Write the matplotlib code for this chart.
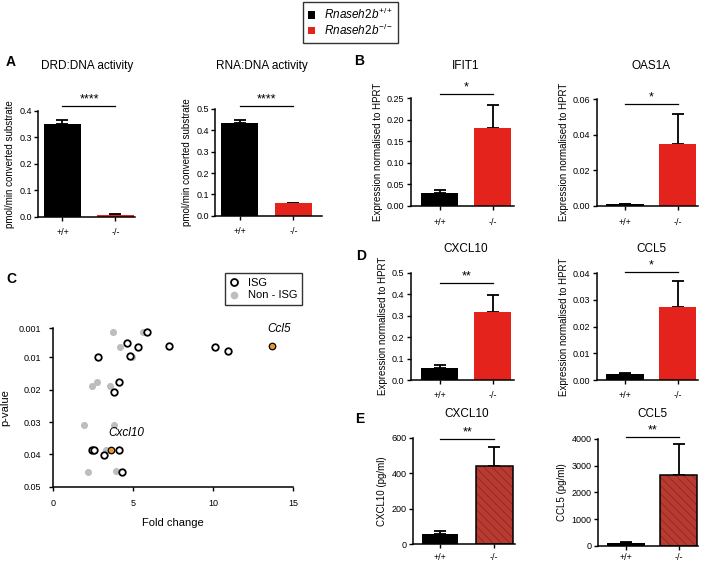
import matplotlib
matplotlib.use("Agg")
import matplotlib.pyplot as plt
from matplotlib.lines import Line2D
from matplotlib.patches import Patch
import numpy as np

plt.rcParams['font.family'] = ['Liberation Sans', 'DejaVu Sans']
plt.rcParams['mathtext.fontset'] = 'custom'
plt.rcParams['mathtext.rm'] = 'Liberation Sans'
plt.rcParams['mathtext.it'] = 'Liberation Sans:italic'
plt.rcParams['hatch.linewidth'] = 0.6

W, H = 709, 565

# ---- data ----
genotypes = ['+/+', '-/-']

drd_mean = [0.350, 0.008]
drd_err = [0.016, 0.001]
rna_mean = [0.433, 0.060]
rna_err = [0.015, 0.001]

ifit1_mean = [0.030, 0.182]
ifit1_err = [0.006, 0.053]
oas1a_mean = [0.0007, 0.0345]
oas1a_err = [0.0003, 0.0172]

cxcl10_mrna_mean = [0.057, 0.315]
cxcl10_mrna_err = [0.013, 0.083]
ccl5_mrna_mean = [0.0021, 0.0272]
ccl5_mrna_err = [0.0004, 0.0099]

cxcl10_prot_mean = [58, 441]
cxcl10_prot_err = [16, 105]
ccl5_prot_mean = [100, 2650]
ccl5_prot_err = [30, 1150]

# height of the significance bars and their labels
sig_heights = [0.419, 0.514, 0.259, 0.0572, 0.45, 0.0404, 591, 4086]
sig_labels = ['****', '****', '*', '*', '**', '*', '**', '**']

# panel C: fold change vs p-value
isg_fc = [5.88, 4.63, 5.31, 7.25, 10.1, 10.9, 2.81, 4.79, 4.13, 3.79, 2.40, 2.56, 4.13, 3.17, 4.29]
isg_p = [0.0021, 0.0057, 0.0069, 0.0066, 0.0069, 0.0080, 0.0100, 0.0095, 0.0175, 0.0206,
         0.0387, 0.0387, 0.0387, 0.0402, 0.0456]
non_isg_fc = [3.75, 5.63, 4.17, 4.90, 2.40, 2.75, 3.54, 1.94, 3.79, 3.29, 2.19, 3.90]
non_isg_p = [0.0021, 0.0021, 0.0069, 0.0098, 0.0189, 0.0175, 0.0189, 0.0310, 0.0310, 0.0387,
             0.0456, 0.0452]
hl_genes = ['Ccl5', 'Cxcl10']
hl_fc = [13.7, 3.58]
hl_p = [0.0066, 0.0387]

BLACK = '#000000'
RED = '#e3231c'
HATCH_FILL = '#b83a30'
HATCH_LINE = '#8c2a25'
GREY = '#bdbdbd'
ORANGE = '#e8962e'


def fx(px):
    return px / W


def fy(py):
    return 1 - py / H


def make_axes(fig, left, right, top, bottom):
    return fig.add_axes([fx(left), fy(bottom), (right - left) / W, (bottom - top) / H])


def style_prism(ax, ymax, xpad):
    for s in ['top', 'right']:
        ax.spines[s].set_visible(False)
    for s in ['left', 'bottom']:
        ax.spines[s].set_linewidth(1.1)
    ax.spines['left'].set_bounds(0, ymax)
    ax.tick_params(direction='out', length=3, width=1, labelsize=6.5)
    ax.tick_params(axis='y', pad=1.5)
    ax.tick_params(axis='x', pad=xpad)


def bar_panel(fig, rect, means, errs, ymax, step, fmt, ylabel, sig_h, sig_lab,
              lpad=0.52, rpad=0.4, width=0.7, hatched=False, xpad=5):
    ax = make_axes(fig, *rect)
    x = np.arange(len(genotypes))
    colors = [BLACK, RED]
    if hatched:
        ax.bar(x[0], means[0], width, color=BLACK, zorder=2)
        ax.bar(x[1], means[1], width, color=HATCH_FILL, edgecolor=HATCH_LINE,
               hatch='\\\\\\\\', linewidth=0, zorder=2)
        ax.bar(x[1], means[1], width, fill=False, edgecolor=BLACK, linewidth=1.1, zorder=3)
    else:
        ax.bar(x, means, width, color=colors, zorder=2)
    ax.errorbar(x, means, yerr=[np.zeros(len(errs)), errs], fmt='none', ecolor=BLACK,
                elinewidth=1.3, capsize=4.5, capthick=1.3, zorder=1)
    ax.set_xlim(-lpad, 1 + rpad)
    ax.set_ylim(0, ymax)
    ticks = np.arange(0, ymax + step / 2, step)
    ax.set_yticks(ticks)
    ax.set_yticklabels([fmt.format(t) for t in ticks])
    ax.set_xticks(x)
    ax.set_xticklabels(genotypes, fontsize=7)
    ax.set_ylabel(ylabel, fontsize=7, labelpad=3)
    style_prism(ax, ymax, xpad)
    ax.plot([0, 1], [sig_h, sig_h], color=BLACK, lw=0.9, clip_on=False)
    ax.annotate(sig_lab, (0.5, sig_h), xytext=(0, 0.5), textcoords='offset points',
                ha='center', va='bottom', fontsize=9, annotation_clip=False)
    return ax


fig = plt.figure(figsize=(W / 100, H / 100), dpi=100)

# ---- panel A ----
bar_panel(fig, (38, 135, 110.7, 216.7), drd_mean, drd_err, 0.4, 0.1, '{:.1f}',
          'pmol/min converted substrate', sig_heights[0], sig_labels[0], lpad=0.462, rpad=0.368)
bar_panel(fig, (215, 322, 109, 215.7), rna_mean, rna_err, 0.5, 0.1, '{:.1f}',
          'pmol/min converted substrate', sig_heights[1], sig_labels[1], lpad=0.454, rpad=0.528)

# ---- panel B ----
bar_panel(fig, (410.7, 514, 98.3, 205.7), ifit1_mean, ifit1_err, 0.25, 0.05, '{:.2f}',
          'Expression normalised to HPRT', sig_heights[2], sig_labels[2], lpad=0.55, rpad=0.4,
          xpad=5.5)
bar_panel(fig, (596.7, 698, 99, 205.7), oas1a_mean, oas1a_err, 0.06, 0.02, '{:.2f}',
          'Expression normalised to HPRT', sig_heights[3], sig_labels[3], lpad=0.535, rpad=0.38,
          xpad=5.5)

# ---- panel D ----
bar_panel(fig, (410.7, 514, 272.7, 380), cxcl10_mrna_mean, cxcl10_mrna_err, 0.5, 0.1, '{:.1f}',
          'Expression normalised to HPRT', sig_heights[4], sig_labels[4], lpad=0.55, rpad=0.4)
bar_panel(fig, (596.7, 698, 273.3, 380), ccl5_mrna_mean, ccl5_mrna_err, 0.04, 0.01, '{:.2f}',
          'Expression normalised to HPRT', sig_heights[5], sig_labels[5], lpad=0.535, rpad=0.38)

# ---- panel E ----
bar_panel(fig, (412.7, 515, 437.7, 544.3), cxcl10_prot_mean, cxcl10_prot_err, 600, 200, '{:.0f}',
          'CXCL10 (pg/ml)', sig_heights[6], sig_labels[6], lpad=0.5, rpad=0.38, width=0.675,
          hatched=True, xpad=3)
bar_panel(fig, (597.7, 698, 439, 545.7), ccl5_prot_mean, ccl5_prot_err, 4000, 1000, '{:.0f}',
          'CCL5 (pg/ml)', sig_heights[7], sig_labels[7], lpad=0.535, rpad=0.36, hatched=True,
          xpad=2.5)

# ---- panel C ----
axc = make_axes(fig, 53.3, 293.3, 328.3, 486.7)
axc.scatter(non_isg_fc, non_isg_p, s=26, color=GREY, linewidths=0, zorder=2)
axc.scatter(isg_fc, isg_p, s=22, facecolors='white', edgecolors=BLACK, linewidths=1.3, zorder=3)
axc.scatter(hl_fc, hl_p, s=22, facecolors=ORANGE, edgecolors=BLACK, linewidths=0.9, zorder=4)
label_offsets = [(5, 8), (11, 8)]
for g, xv, yv, off in zip(hl_genes, hl_fc, hl_p, label_offsets):
    axc.annotate(g, (xv, yv), xytext=off, textcoords='offset points', fontsize=8.5,
                 style='italic', ha='center', va='bottom')
axc.set_xlim(0, 15)
axc.set_ylim(0.05, 0.001)
axc.set_xticks([0, 5, 10, 15])
axc.set_yticks([0.001, 0.01, 0.02, 0.03, 0.04, 0.05])
axc.set_yticklabels(['0.001', '0.01', '0.02', '0.03', '0.04', '0.05'])
for s in ['top', 'right']:
    axc.spines[s].set_visible(False)
for s in ['left', 'bottom']:
    axc.spines[s].set_linewidth(1.1)
axc.tick_params(direction='out', length=3, width=1, labelsize=6.5, pad=6)
axc.set_xlabel('Fold change', fontsize=8, labelpad=7)
axc.set_ylabel('p-value', fontsize=8, labelpad=6)

c_handles = [Line2D([], [], marker='o', ls='none', markersize=5, markerfacecolor='white',
                    markeredgecolor=BLACK, markeredgewidth=1.3, label='ISG'),
             Line2D([], [], marker='o', ls='none', markersize=5.5, markerfacecolor=GREY,
                    markeredgewidth=0, label='Non - ISG')]
leg_c = fig.legend(handles=c_handles, loc='upper left', bbox_to_anchor=(fx(225), fy(272.7)),
                   fontsize=8, frameon=True, fancybox=False, edgecolor=BLACK,
                   handlelength=0.8, handletextpad=0.8, borderpad=0.45, labelspacing=0.25,
                   borderaxespad=0)
leg_c.get_frame().set_linewidth(1)

# ---- top legend ----
top_handles = [Patch(facecolor=BLACK, label=r'$\mathit{Rnaseh2b}^{+/+}$'),
               Patch(facecolor=RED, label=r'$\mathit{Rnaseh2b}^{-/-}$')]
leg_t = fig.legend(handles=top_handles, loc='upper left', bbox_to_anchor=(fx(303), fy(1.5)),
                   fontsize=8.5, frameon=True, fancybox=False, edgecolor=BLACK,
                   handlelength=0.6, handleheight=0.6, handletextpad=0.7, borderpad=0.45,
                   labelspacing=0.05, borderaxespad=0)
leg_t.get_frame().set_linewidth(1)

# ---- titles and panel letters ----
titles = [('DRD:DNA activity', 87, 66), ('RNA:DNA activity', 262, 66),
          ('IFIT1', 466, 66), ('OAS1A', 651, 66),
          ('CXCL10', 466, 249), ('CCL5', 651, 249),
          ('CXCL10', 467, 414), ('CCL5', 652, 414)]
for t, px, py in titles:
    fig.text(fx(px), fy(py), t, fontsize=8.5, ha='center', va='center')

letters = [('A', 11, 62), ('B', 359, 61), ('C', 11, 279), ('D', 361, 256), ('E', 360, 419)]
for t, px, py in letters:
    fig.text(fx(px), fy(py), t, fontsize=10, fontweight='bold', ha='center', va='center')

plt.savefig('out.png', dpi=100)
